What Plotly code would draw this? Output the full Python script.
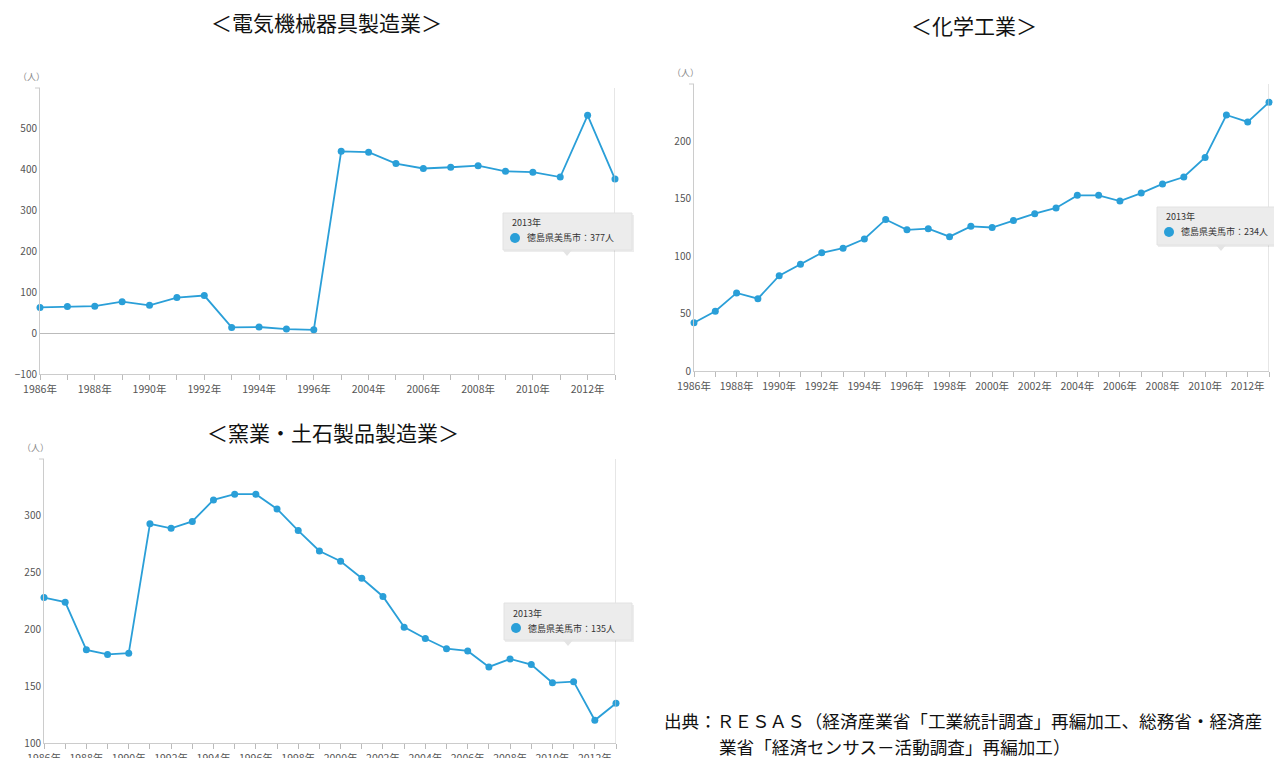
import plotly.graph_objects as go

W, H = 1282, 758
OFF = 8  # default page body margin in the browser
FW, FH = W - OFF, H - OFF
FONT = "Noto Sans CJK JP"
BLUE = "#2a9fd8"


def px(x):
    return (x - OFF) / FW


def py(y):
    return 1 - (y - OFF) / FH


# ---------------- data ----------------
title1 = "＜電気機械器具製造業＞"
title2 = "＜化学工業＞"
title3 = "＜窯業・土石製品製造業＞"

years1 = [1986, 1987, 1988, 1989, 1990, 1991, 1992, 1993, 1994, 1995, 1996,
          2003, 2004, 2005, 2006, 2007, 2008, 2009, 2010, 2011, 2012, 2013]
vals1 = [63, 65, 66, 77, 68, 87, 92, 14, 15, 10, 8,
         445, 443, 415, 403, 406, 410, 396, 394, 382, 533, 377]

years2 = list(range(1986, 2014))
vals2 = [42, 52, 68, 63, 83, 93, 103, 107, 115, 132, 123, 124, 117, 126,
         125, 131, 137, 142, 153, 153, 148, 155, 163, 169, 186, 223, 217, 234]

years3 = list(range(1986, 2014))
vals3 = [228, 224, 182, 178, 179, 293, 289, 295, 314, 319, 319, 306, 287, 269,
         260, 245, 229, 202, 192, 183, 181, 167, 174, 169, 153, 154, 120, 135]

yticks1 = [-100, 0, 100, 200, 300, 400, 500]
yticks2 = [0, 50, 100, 150, 200]
yticks3 = [100, 150, 200, 250, 300]

unit_label = "（人）"
series_name = "徳島県美馬市"
source_line1 = "出典：ＲＥＳＡＳ（経済産業省「工業統計調査」再編加工、総務省・経済産"
source_line2 = "業省「経済センサス－活動調査」再編加工）"

# ---------------- figure ----------------
fig = go.Figure()

panels = [
    # years, values, yticks, yrange, (left, top, right, bottom) px, axis suffix, zeroline
    (years1, vals1, yticks1, [-100, 600], (40, 88, 615, 374), "", True),
    (years2, vals2, yticks2, [0, 250], (694, 84, 1269, 371), "2", False),
    (years3, vals3, yticks3, [100, 350], (44, 459, 616, 743), "3", False),
]

for years, vals, yt, yr, (l, t, r, b), sfx, zl in panels:
    cats = [f"{y}年" for y in years]
    ticktext = [c if i % 2 == 0 else "" for i, c in enumerate(cats)]
    fig.add_trace(go.Scatter(
        x=cats, y=vals, mode="lines+markers",
        line=dict(color=BLUE, width=1.8),
        marker=dict(color=BLUE, size=7),
        cliponaxis=False, showlegend=False,
        xaxis="x" + sfx, yaxis="y" + sfx,
        hovertemplate="%{x}<br>" + series_name + "：%{y}人<extra></extra>",
    ))
    fig.update_layout(**{
        "xaxis" + sfx: dict(
            domain=[px(l), px(r)], anchor="y" + sfx, type="category",
            range=[0, len(cats) - 1], tickmode="array", tickvals=cats,
            ticktext=ticktext, ticks="outside", ticklen=5, tickcolor="#bbbbbb",
            showline=True, linecolor="#cccccc", linewidth=1, showgrid=False,
            zeroline=False, tickangle=0, automargin=False,
            tickfont=dict(family=FONT, size=10.5, color="#555555"),
        ),
        "yaxis" + sfx: dict(
            domain=[py(b), py(t)], anchor="x" + sfx, range=yr,
            tickmode="array", tickvals=yt, showline=True, linecolor="#cccccc",
            linewidth=1, showgrid=False, zeroline=zl, zerolinecolor="#bbbbbb",
            zerolinewidth=1, ticks="", automargin=False,
            tickfont=dict(family=FONT, size=10, color="#555555"),
        ),
    })
    # crosshair at last category
    fig.add_shape(type="line", xref="x" + sfx, yref="y" + sfx + " domain",
                  x0=len(cats) - 1, x1=len(cats) - 1, y0=0, y1=1,
                  line=dict(color="#cccccc", width=1))
    # small tick at axis top
    fig.add_shape(type="line", xref="paper", yref="paper",
                  x0=px(l - 5), x1=px(l), y0=py(t), y1=py(t),
                  line=dict(color="#cccccc", width=1))
    # unit label
    fig.add_annotation(text=unit_label, xref="paper", yref="paper",
                       x=px(l - 24), y=py(t - 12), xanchor="left", yanchor="middle",
                       showarrow=False, font=dict(family=FONT, size=9, color="#888888"))

# titles
for txt, cx, cy in [(title1, 327, 22), (title2, 974, 25), (title3, 333, 432)]:
    fig.add_annotation(text=txt, xref="paper", yref="paper", x=px(cx), y=py(cy),
                       xanchor="center", yanchor="middle", showarrow=False,
                       font=dict(family=FONT, size=21, color="#111111"))

# tooltips: (values, box left, box top, box right, box bottom)
tips = [(vals1, 503, 213, 632, 250), (vals2, 1157, 207, 1290, 245),
        (vals3, 504, 603, 632, 640)]
for vals, x0, y0, x1, y1 in tips:
    # shadow
    fig.add_shape(type="rect", xref="paper", yref="paper",
                  x0=px(x0 + 1), x1=px(x1 + 2), y0=py(y0 + 2), y1=py(y1 + 2),
                  fillcolor="rgba(0,0,0,0.07)", line=dict(width=0), layer="above")
    fig.add_shape(type="rect", xref="paper", yref="paper",
                  x0=px(x0), x1=px(x1), y0=py(y0), y1=py(y1),
                  fillcolor="rgb(236,236,236)", line=dict(color="#e2e2e2", width=1),
                  layer="above")
    ax = x0 + 64
    fig.add_shape(type="path", xref="paper", yref="paper",
                  path=(f"M {px(ax - 5)} {py(y1)} L {px(ax + 5)} {py(y1)} "
                        f"L {px(ax)} {py(y1 + 6)} Z"),
                  fillcolor="rgb(228,228,228)", line=dict(width=0), layer="above")
    fig.add_shape(type="circle", xref="paper", yref="paper",
                  x0=px(x0 + 7), x1=px(x0 + 17), y0=py(y0 + 20), y1=py(y0 + 30),
                  fillcolor=BLUE, line=dict(width=0), layer="above")
    fig.add_annotation(text=f"{years2[-1]}年", xref="paper", yref="paper",
                       x=px(x0 + 7), y=py(y0 + 10), xanchor="left", yanchor="middle",
                       showarrow=False, font=dict(family=FONT, size=9, color="#333333"))
    fig.add_annotation(text=f"{series_name}：{vals[-1]}人", xref="paper", yref="paper",
                       x=px(x0 + 22), y=py(y0 + 25), xanchor="left", yanchor="middle",
                       showarrow=False, font=dict(family=FONT, size=9, color="#333333"))

# source
fig.add_annotation(text=source_line1, xref="paper", yref="paper", x=px(662), y=py(720),
                   xanchor="left", yanchor="middle", showarrow=False,
                   font=dict(family=FONT, size=17.6, color="#111111"))
fig.add_annotation(text=source_line2, xref="paper", yref="paper", x=px(717), y=py(746),
                   xanchor="left", yanchor="middle", showarrow=False,
                   font=dict(family=FONT, size=17.6, color="#111111"))

fig.update_layout(
    width=FW, height=FH, autosize=False,
    margin=dict(l=0, r=0, t=0, b=0, autoexpand=False),
    paper_bgcolor="white", plot_bgcolor="white",
    font=dict(family=FONT),
    showlegend=False,
)

fig.write_html("out.html")
